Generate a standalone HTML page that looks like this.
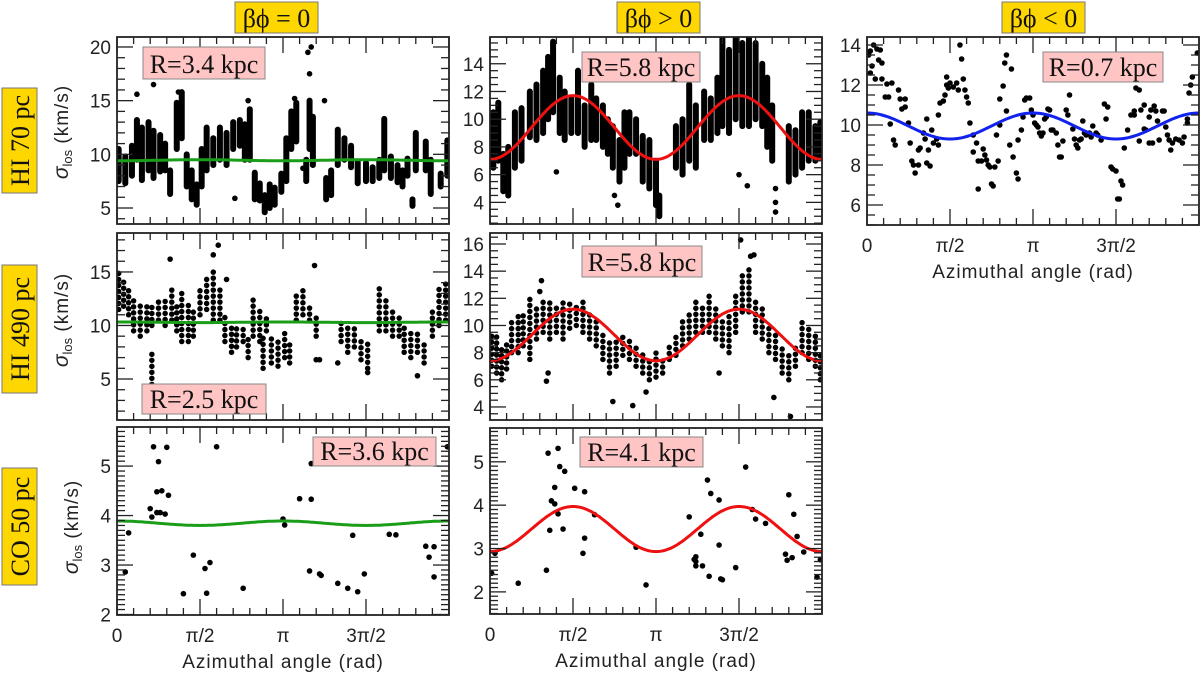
<!DOCTYPE html>
<html><head><meta charset="utf-8"><style>
html,body{margin:0;padding:0;background:#fff;}
svg{display:block;}
text{font-family:"Liberation Sans",sans-serif;}
.serif{font-family:"Liberation Serif",serif;}
</style></head><body>
<svg id="fig" width="1200" height="678" viewBox="0 0 1200 678" xmlns="http://www.w3.org/2000/svg"></svg>
<script>
// ===== DATA (phi in units of pi, sigma in km/s) =====
const aStreaks=[[0.01,7.5,10.5],[0.05,7.3,9.8],[0.09,8,10.8],[0.12,9.5,13.2],[0.15,7.6,12.5],[0.19,8.5,13],[0.22,7.8,12.2],[0.26,8.4,11.8],[0.29,8.5,11],[0.32,6.3,8.5],[0.36,10.5,14.8],[0.39,11.5,15.8],[0.42,7,10],[0.45,5.8,8.5],[0.48,5.3,7.2],[0.51,7,10.5],[0.54,8.5,12.5],[0.58,9,11.5],[0.62,9.5,12.5],[0.66,9,12],[0.7,10.5,13],[0.74,10.8,13.2],[0.77,9.5,12.8],[0.8,9.5,14.2],[0.83,5.8,8.3],[0.86,5.7,7.3],[0.89,4.6,6.2],[0.92,5,7.2],[0.95,5.3,6.9],[0.99,6.5,8.2],[1.02,7.5,11.5],[1.05,10.5,14],[1.08,11.2,14.8],[1.16,10.5,15],[1.18,9,13.5],[1.14,7.5,9.5],[1.26,5.8,7.8],[1.29,6.2,8.5],[1.33,9,12.3],[1.37,9.5,11.5],[1.41,8.8,10.8],[1.45,7.3,9.3],[1.5,7.5,9.2],[1.54,7.5,8.8],[1.58,7.8,9.5],[1.61,8.5,13.3],[1.65,7.8,9.8],[1.69,7.4,9],[1.72,7,8.5],[1.75,8,9.6],[1.78,5.2,5.8],[1.8,8.5,12],[1.86,8.5,11.2],[1.89,6.3,9.5],[1.95,7,8.2],[1.99,8,11.3]];
const aDots=[[0.12,15.6],[0.22,16.5],[0.37,15.8],[0.79,15],[0.71,5.9],[1.15,19.5],[1.17,20],[1.16,17.5],[1.25,15],[1.07,15.2],[1.12,8.7]];
const bStreaks=[[0.02,6.5,10.5],[0.05,7,11.2],[0.08,4.8,7.5],[0.11,4.5,8],[0.15,6.5,10.5],[0.19,7,10.8],[0.24,8.7,12],[0.28,8.5,12.5],[0.32,9,13.5],[0.35,10,14.5],[0.38,10.5,15.6],[0.42,9,13],[0.45,8.5,12],[0.49,9,11.5],[0.53,9,13.5],[0.57,8,11],[0.61,8.5,12.5],[0.64,8.5,11.5],[0.68,8,11],[0.71,7.5,10],[0.74,6.5,9.5],[0.78,5.5,8.5],[0.81,6.5,10.5],[0.84,7.5,10.5],[0.88,7.5,10],[0.92,5.5,8.8],[0.96,5,8.5],[1.0,3.8,7],[1.02,3,4.5],[1.12,6.5,9.5],[1.16,6,10],[1.2,7,12.5],[1.24,6.5,11],[1.29,8.5,12],[1.33,8.5,11.5],[1.37,9,13],[1.4,9.5,15.8],[1.44,9,15],[1.48,10,15.8],[1.52,9.5,15.5],[1.56,9.5,15.8],[1.6,10,15.5],[1.64,9.5,14],[1.67,8,13],[1.7,7,11],[1.8,5.5,9.5],[1.84,6,9.2],[1.88,6.5,10.5],[1.92,7,10.5],[1.96,7,9.5],[1.99,7.2,9.8]];
const bDots=[[0.4,6.2],[0.75,4.5],[0.77,3.8],[1.02,3.1],[1.5,6],[1.55,5.2],[1.72,5],[1.72,4],[1.72,3.3]];
const cPoints=[[.01,13.5],[.02,13.7],[.04,14.0],[.06,13.8],[.08,13.75],[.07,13.25],[.03,12.95],[.02,12.6],[.09,13.1],[.05,12.3],[.09,12.3],[.12,12.05],[.11,11.4],[.13,11.4],[.15,12.1],[.19,11.75],[.2,11.3],[.21,10.8],[.23,10.9],[.23,11.3],[.14,10.05],[.16,9.25],[.17,9.0],[.25,10.1],[.26,9.1],[.27,8.2],[.28,8.0],[.29,7.6],[.31,8.0],[.31,8.75],[.32,8.85],[.34,9.6],[.35,9.3],[.36,10.3],[.36,8.1],[.38,7.95],[.37,8.75],[.39,9.75],[.4,9.1],[.42,9.3],[.43,9.0],[.43,10.5],[.44,11.1],[.46,11.2],[.47,11.5],[.48,12.0],[.48,12.4],[.49,11.85],[.5,12.1],[.52,11.9],[.54,12.1],[.55,11.75],[.56,14.0],[.57,13.3],[.58,12.3],[.59,11.75],[.6,11.4],[.61,11.1],[.62,10.1],[.64,9.5],[.64,8.65],[.66,9.1],[.67,6.8],[.67,8.2],[.69,8.2],[.7,8.8],[.71,8.5],[.72,8.25],[.73,8.0],[.74,7.9],[.75,7.05],[.76,6.95],[.77,7.9],[.78,9.5],[.79,8.2],[.8,10.0],[.8,11.3],[.82,11.95],[.83,13.1],[.84,13.5],[.87,12.8],[.84,10.7],[.86,9.0],[.88,8.4],[.9,7.6],[.91,7.3],[.91,9.25],[.93,9.75],[.94,10.4],[.95,11.25],[.96,11.35],[.98,11.35],[.99,10.75],[1.0,10.5],[1.01,10.1],[1.02,10.0],[1.03,9.9],[1.04,9.6],[1.05,9.45],[1.06,9.6],[1.07,10.3],[1.08,10.4],[1.09,10.8],[1.1,10.75],[1.11,9.75],[1.12,9.75],[1.14,9.6],[1.15,9.0],[1.16,8.4],[1.17,8.4],[1.18,9.2],[1.2,10.75],[1.21,10.5],[1.22,11.5],[1.24,9.8],[1.25,9.3],[1.26,9.0],[1.27,8.85],[1.28,9.25],[1.29,9.3],[1.3,10.2],[1.31,9.6],[1.32,9.5],[1.34,9.6],[1.35,9.4],[1.36,9.95],[1.38,9.6],[1.39,9.5],[1.41,9.25],[1.43,11.05],[1.45,10.9],[1.44,10.3],[1.47,7.9],[1.48,7.8],[1.5,7.7],[1.51,6.3],[1.52,6.3],[1.53,7.2],[1.54,7.0],[1.55,8.85],[1.57,9.75],[1.59,10.5],[1.61,10.5],[1.61,10.7],[1.62,11.85],[1.64,11.75],[1.64,9.2],[1.65,10.75],[1.67,11.0],[1.67,9.8],[1.68,9.75],[1.7,9.1],[1.7,10.4],[1.71,10.75],[1.72,9.1],[1.73,10.95],[1.74,10.7],[1.75,10.2],[1.76,9.25],[1.78,10.7],[1.79,10.7],[1.8,9.9],[1.81,9.5],[1.82,9.25],[1.83,8.75],[1.84,9.1],[1.86,9.3],[1.88,9.25],[1.9,9.1],[1.91,9.4],[1.93,10.1],[1.93,10.3],[1.94,11.6],[1.95,12.0],[1.96,12.4],[1.99,13.6]];
const dStreaks=[[0.01,11.5,15.3],[0.04,11.8,14.5],[0.07,11,13.5],[0.1,9.5,12.5],[0.14,9,12],[0.18,9.5,12.2],[0.21,10,12],[0.21,4.5,7.5],[0.25,10.5,12.5],[0.29,10,12.8],[0.33,10.5,13.5],[0.36,9.5,12],[0.39,8.5,13],[0.43,8.5,12],[0.46,9,11.5],[0.5,11,13.5],[0.54,11.5,14.5],[0.58,10.5,15.5],[0.62,10.5,13.5],[0.65,8.5,11],[0.69,7.5,10],[0.72,8,9.7],[0.76,8.5,10],[0.79,7,9],[0.82,9,12.5],[0.86,8.5,11.5],[0.9,9.5,11],[0.88,6,9],[0.93,6.5,9],[0.97,6.2,8.5],[1.01,7,9.5],[1.04,6.5,8.5],[1.08,10.5,13],[1.12,11,13.5],[1.16,10.5,12],[1.2,9,11],[1.35,8.5,10.5],[1.39,7.5,10],[1.43,8,10],[1.47,6.8,9],[1.51,6,8.5],[1.58,9.5,13.5],[1.62,9.5,12.5],[1.66,9,11.5],[1.7,9,11],[1.73,7.5,10],[1.77,7,9.5],[1.81,7.5,9.5],[1.85,6.5,8.5],[1.9,9,11.5],[1.94,10,13.5],[1.98,10.5,14]];
const dDots=[[0.32,16.2],[0.58,16.6],[0.61,17.5],[0.66,14.3],[1.19,15.6],[1.2,6.8],[1.22,6.8],[1.33,6.5],[1.51,5.6],[1.81,5.3]];
const eStreaks=[[0.01,7,9.5],[0.04,6.5,9.2],[0.07,6,8.5],[0.1,6.8,9],[0.13,8,10.5],[0.17,8,10.8],[0.2,8.5,11],[0.24,7.5,12],[0.28,9,11.5],[0.32,9.5,11.8],[0.36,9,12],[0.4,9.5,11.5],[0.44,9,12],[0.48,9.8,12],[0.52,10,11.5],[0.56,9.5,11.8],[0.6,9,11.2],[0.64,8.5,10.5],[0.68,7.5,9.5],[0.72,6.5,9],[0.76,7,9],[0.8,7.8,9.5],[0.84,7.5,9.2],[0.88,7,8.5],[0.92,6.5,8],[0.96,6,7.5],[1.0,6.2,8],[1.04,6.5,7.8],[1.08,7.5,8.5],[1.12,7.8,9.5],[1.16,8.5,10.5],[1.2,9,11],[1.24,9.5,12],[1.28,9.5,11.5],[1.32,9.5,12.5],[1.36,9,11.5],[1.4,8.5,10.5],[1.44,8,11],[1.48,9.5,12.5],[1.52,11,14],[1.56,11,14.5],[1.6,9.5,12],[1.64,9,11.5],[1.68,8,10],[1.72,7.5,9.5],[1.76,6.5,8.5],[1.8,6,8],[1.84,7,8.5],[1.88,8,10.5],[1.92,7.5,10],[1.96,7,9.5],[1.99,6,8]];
const eDots=[[0.3,12.5],[0.31,13.3],[0.34,5.9],[0.35,6.5],[0.74,4.4],[0.86,4.1],[0.94,5.1],[1.38,6.5],[1.71,4.7],[1.81,3.3],[1.51,16.3],[1.57,15.1],[1.59,15.2]];
const fPoints=[[.05,2.86],[.07,3.65],[.2,4.14],[.21,3.97],[.22,5.39],[.24,4.06],[.25,5.09],[.26,4.06],[.24,4.48],[.27,4.5],[.29,4.03],[.3,5.38],[.31,4.41],[.4,2.42],[.46,3.2],[.53,2.93],[.54,2.43],[.56,3.05],[.6,5.39],[.76,2.53],[1.0,3.93],[1.01,3.81],[1.1,4.34],[1.16,2.88],[1.17,4.33],[1.17,5.05],[1.22,2.82],[1.23,2.79],[1.33,2.63],[1.39,2.53],[1.42,3.6],[1.45,2.46],[1.49,2.82],[1.64,3.62],[1.68,3.61],[1.86,3.38],[1.88,3.16],[1.91,3.37],[1.91,2.76],[1.99,5.39]];
const gPoints=[[.01,2.43],[.03,2.89],[.17,2.2],[.34,2.5],[.35,5.2],[.37,4.1],[.39,4.03],[.39,4.41],[.41,5.31],[.41,3.8],[.42,4.89],[.36,3.42],[.44,3.45],[.45,4.78],[.51,4.39],[.56,2.89],[.57,4.31],[.57,3.24],[.63,3.78],[.88,3.03],[.94,2.16],[1.2,3.73],[1.23,2.75],[1.24,2.7],[1.24,2.81],[1.24,2.6],[1.27,3.33],[1.28,2.6],[1.31,4.58],[1.32,2.36],[1.33,4.27],[1.38,4.12],[1.38,3.08],[1.39,2.3],[1.4,2.28],[1.48,2.56],[1.54,4.88],[1.58,3.9],[1.6,3.68],[1.66,3.58],[1.78,2.87],[1.79,2.73],[1.8,4.24],[1.82,2.79],[1.83,3.79],[1.85,3.28],[1.89,2.92],[1.97,2.34],[1.99,2.74]];
// fit model: mean + amp*cos(2*phi)
const fitMean=[9.45,9.4,9.95,10.3,9.3,3.845,3.45];
const fitAmp=[-0.05,-2.3,0.65,0.03,-1.9,0.045,-0.52];
const yTicksA=[5,10,15,20], yTicksB=[4,6,8,10,12,14], yTicksC=[6,8,10,12,14], yTicksD=[5,10,15], yTicksE=[4,6,8,10,12,14,16], yTicksF=[2,3,4,5], yTicksG=[2,3,4,5];
const xTickLabels=["0","π/2","π","3π/2"];

// ===== DRAWING =====
const NS="http://www.w3.org/2000/svg";
const svg=document.getElementById('fig');
function mk(tag,attrs,parent){const e=document.createElementNS(NS,tag);for(const k in attrs)e.setAttribute(k,attrs[k]);(parent||svg).appendChild(e);return e;}

const panels=[
 {id:'a',x0:117,x1:449,top:37,bot:224,ymin:3.51,ymax:20.93,ticks:yTicksA,minor:1,streaks:aStreaks,dots:aDots,color:'#1a9e1a',fit:0,dense:true,R:'R=3.4 kpc',rb:[143,47,122,32]},
 {id:'b',x0:490,x1:822,top:37,bot:224,ymin:2.44,ymax:15.93,ticks:yTicksB,minor:0.5,streaks:bStreaks,dots:bDots,color:'#ee1111',fit:1,dense:true,R:'R=5.8 kpc',rb:[582,52,118,30]},
 {id:'c',x0:867,x1:1199,top:37,bot:225,ymin:5.0,ymax:14.4,ticks:yTicksC,minor:0.5,dots:cPoints,color:'#1122ee',fit:2,R:'R=0.7 kpc',rb:[1043,52,120,30],xlab:true},
 {id:'d',x0:117,x1:449,top:233,bot:420,ymin:1.17,ymax:18.64,ticks:yTicksD,minor:1,streaks:dStreaks,dots:dDots,color:'#1a9e1a',fit:3,R:'R=2.5 kpc',rb:[142,384,124,30]},
 {id:'e',x0:490,x1:822,top:233,bot:420,ymin:3.04,ymax:16.81,ticks:yTicksE,minor:0.5,streaks:eStreaks,dots:eDots,color:'#ee1111',fit:4,R:'R=5.8 kpc',rb:[582,246,120,31]},
 {id:'f',x0:117,x1:449,top:427,bot:615,ymin:1.99,ymax:5.79,ticks:yTicksF,minor:0.1,dots:fPoints,color:'#1a9e1a',fit:5,R:'R=3.6 kpc',rb:[313,437,123,29],xlab:true},
 {id:'g',x0:490,x1:822,top:428,bot:614,ymin:1.49,ymax:5.78,ticks:yTicksG,minor:0.1,dots:gPoints,color:'#ee1111',fit:6,R:'R=4.1 kpc',rb:[580,437,123,30],xlab:true}
];

panels.forEach(p=>{
  const g=mk('g',{});
  
  
  const X=ph=>p.x0+ph/2*(p.x1-p.x0);
  const Y=v=>p.bot-(v-p.ymin)/(p.ymax-p.ymin)*(p.bot-p.top);
  const clip=mk('clipPath',{id:'clip'+p.id},g);
  mk('rect',{x:p.x0,y:p.top,width:p.x1-p.x0,height:p.bot-p.top},clip);
  const data=mk('g',{'clip-path':'url(#clip'+p.id+')'},g);
  
  
  (p.streaks||[]).forEach(s=>{
    const l=mk('line',{x1:X(s[0]),x2:X(s[0]),y1:Y(s[1]),y2:Y(s[2]),stroke:'#000','stroke-width':p.dense?6:5.5,'stroke-linecap':'round'},data);
    if(!p.dense)l.setAttribute('stroke-dasharray','0 6');
    
    
  });
  (p.dots||[]).forEach(d=>{
    const c=mk('circle',{cx:X(d[0]),cy:Y(d[1]),r:2.8,fill:'#000'},data);
    
    
  });
  // fit curve
  let dpath='';
  for(let i=0;i<=200;i++){const ph=i/100;const v=fitMean[p.fit]+fitAmp[p.fit]*Math.cos(2*Math.PI*ph);dpath+=(i?'L':'M')+X(ph).toFixed(1)+' '+Y(v).toFixed(1);}
  const fl=mk('path',{d:dpath,fill:'none',stroke:p.color,'stroke-width':3},data);
  
  
  // frame
  const fr=mk('rect',{x:p.x0,y:p.top,width:p.x1-p.x0,height:p.bot-p.top,fill:'none',stroke:'#222','stroke-width':1.8},g);
  
  
  // x ticks
  const ax=mk('g',{stroke:'#222','stroke-width':1.3},g);
  
  
  for(let k=0;k<=20;k++){const x=X(k/10);const L=(k%5===0)?16:7;
    mk('line',{x1:x,x2:x,y1:p.bot,y2:p.bot-L},ax);mk('line',{x1:x,x2:x,y1:p.top,y2:p.top+L},ax);}
  // y ticks
  const ay=mk('g',{stroke:'#222','stroke-width':1.3},g);
  
  
  const n0=Math.ceil(p.ymin/p.minor-1e-6),n1=Math.floor(p.ymax/p.minor+1e-6);
  for(let n=n0;n<=n1;n++){const v=n*p.minor;const y=Y(v);const maj=p.ticks.some(t=>Math.abs(t-v)<1e-6);const L=maj?16:8;
    mk('line',{x1:p.x0,x2:p.x0+L,y1:y,y2:y},ay);mk('line',{x1:p.x1,x2:p.x1-L,y1:y,y2:y},ay);}
  p.ticks.forEach(t=>{const tx=mk('text',{x:p.x0-6,y:Y(t)+7,'text-anchor':'end','font-size':19,fill:'#222'},g);tx.textContent=t;
    
    });
  if(p.xlab){
    xTickLabels.forEach((s,i)=>{const tx=mk('text',{x:X(i/2),y:p.bot+27,'text-anchor':'middle','font-size':19,fill:'#222'},g);tx.textContent=s;
      
      });
    const tt=mk('text',{x:(p.x0+p.x1)/2,y:p.bot+53,'text-anchor':'middle','font-size':19,fill:'#222','letter-spacing':'1'},g);tt.textContent='Azimuthal angle (rad)';
    
    
  }
  // R label
  const rg=mk('g',{},g);
  
  
  mk('rect',{x:p.rb[0],y:p.rb[1],width:p.rb[2],height:p.rb[3],fill:'#ffc4c4',stroke:'#888','stroke-width':1},rg);
  const rt=mk('text',{x:p.rb[0]+p.rb[2]/2,y:p.rb[1]+p.rb[3]-6,'text-anchor':'middle','font-size':26,fill:'#111',class:'serif'},rg);rt.textContent=p.R;
});

// column headers
[[235,83,'βϕ = 0'],[617,83,'βϕ > 0'],[1002,83,'βϕ < 0']].forEach(h=>{
  const g=mk('g',{});
  
  
  mk('rect',{x:h[0],y:2,width:h[1],height:31,fill:'#ffd700',stroke:'#777','stroke-width':1},g);
  const t=mk('text',{x:h[0]+h[1]/2,y:27,'text-anchor':'middle','font-size':26,fill:'#111',class:'serif'},g);t.textContent=h[2];
});
// row labels
[[88,105,'HI 70 pc'],[265,128,'HI 490 pc'],[468,117,'CO 50 pc']].forEach(r=>{
  const g=mk('g',{});
  
  
  mk('rect',{x:2,y:r[0],width:35,height:r[1],fill:'#ffd700',stroke:'#777','stroke-width':1},g);
  const cy=r[0]+r[1]/2;
  const t=mk('text',{x:0,y:0,'text-anchor':'middle','font-size':26,fill:'#111',class:'serif',transform:'translate(29,'+cy+') rotate(-90)'},g);t.textContent=r[2];
});
// y axis titles
[[68,132],[68,320],[78,527]].forEach(a=>{
  const t=mk('text',{x:0,y:0,'text-anchor':'middle','font-size':19,fill:'#222',transform:'translate('+a[0]+','+a[1]+') rotate(-90)'});
  
  
  const s1=mk('tspan',{'font-style':'italic','font-size':21},t);s1.textContent='σ';
  const s2=mk('tspan',{'font-size':13,dy:4},t);s2.textContent='los';
  const s3=mk('tspan',{dy:-4,'letter-spacing':'1'},t);s3.textContent='  (km/s)';
});
</script>
</body></html>
